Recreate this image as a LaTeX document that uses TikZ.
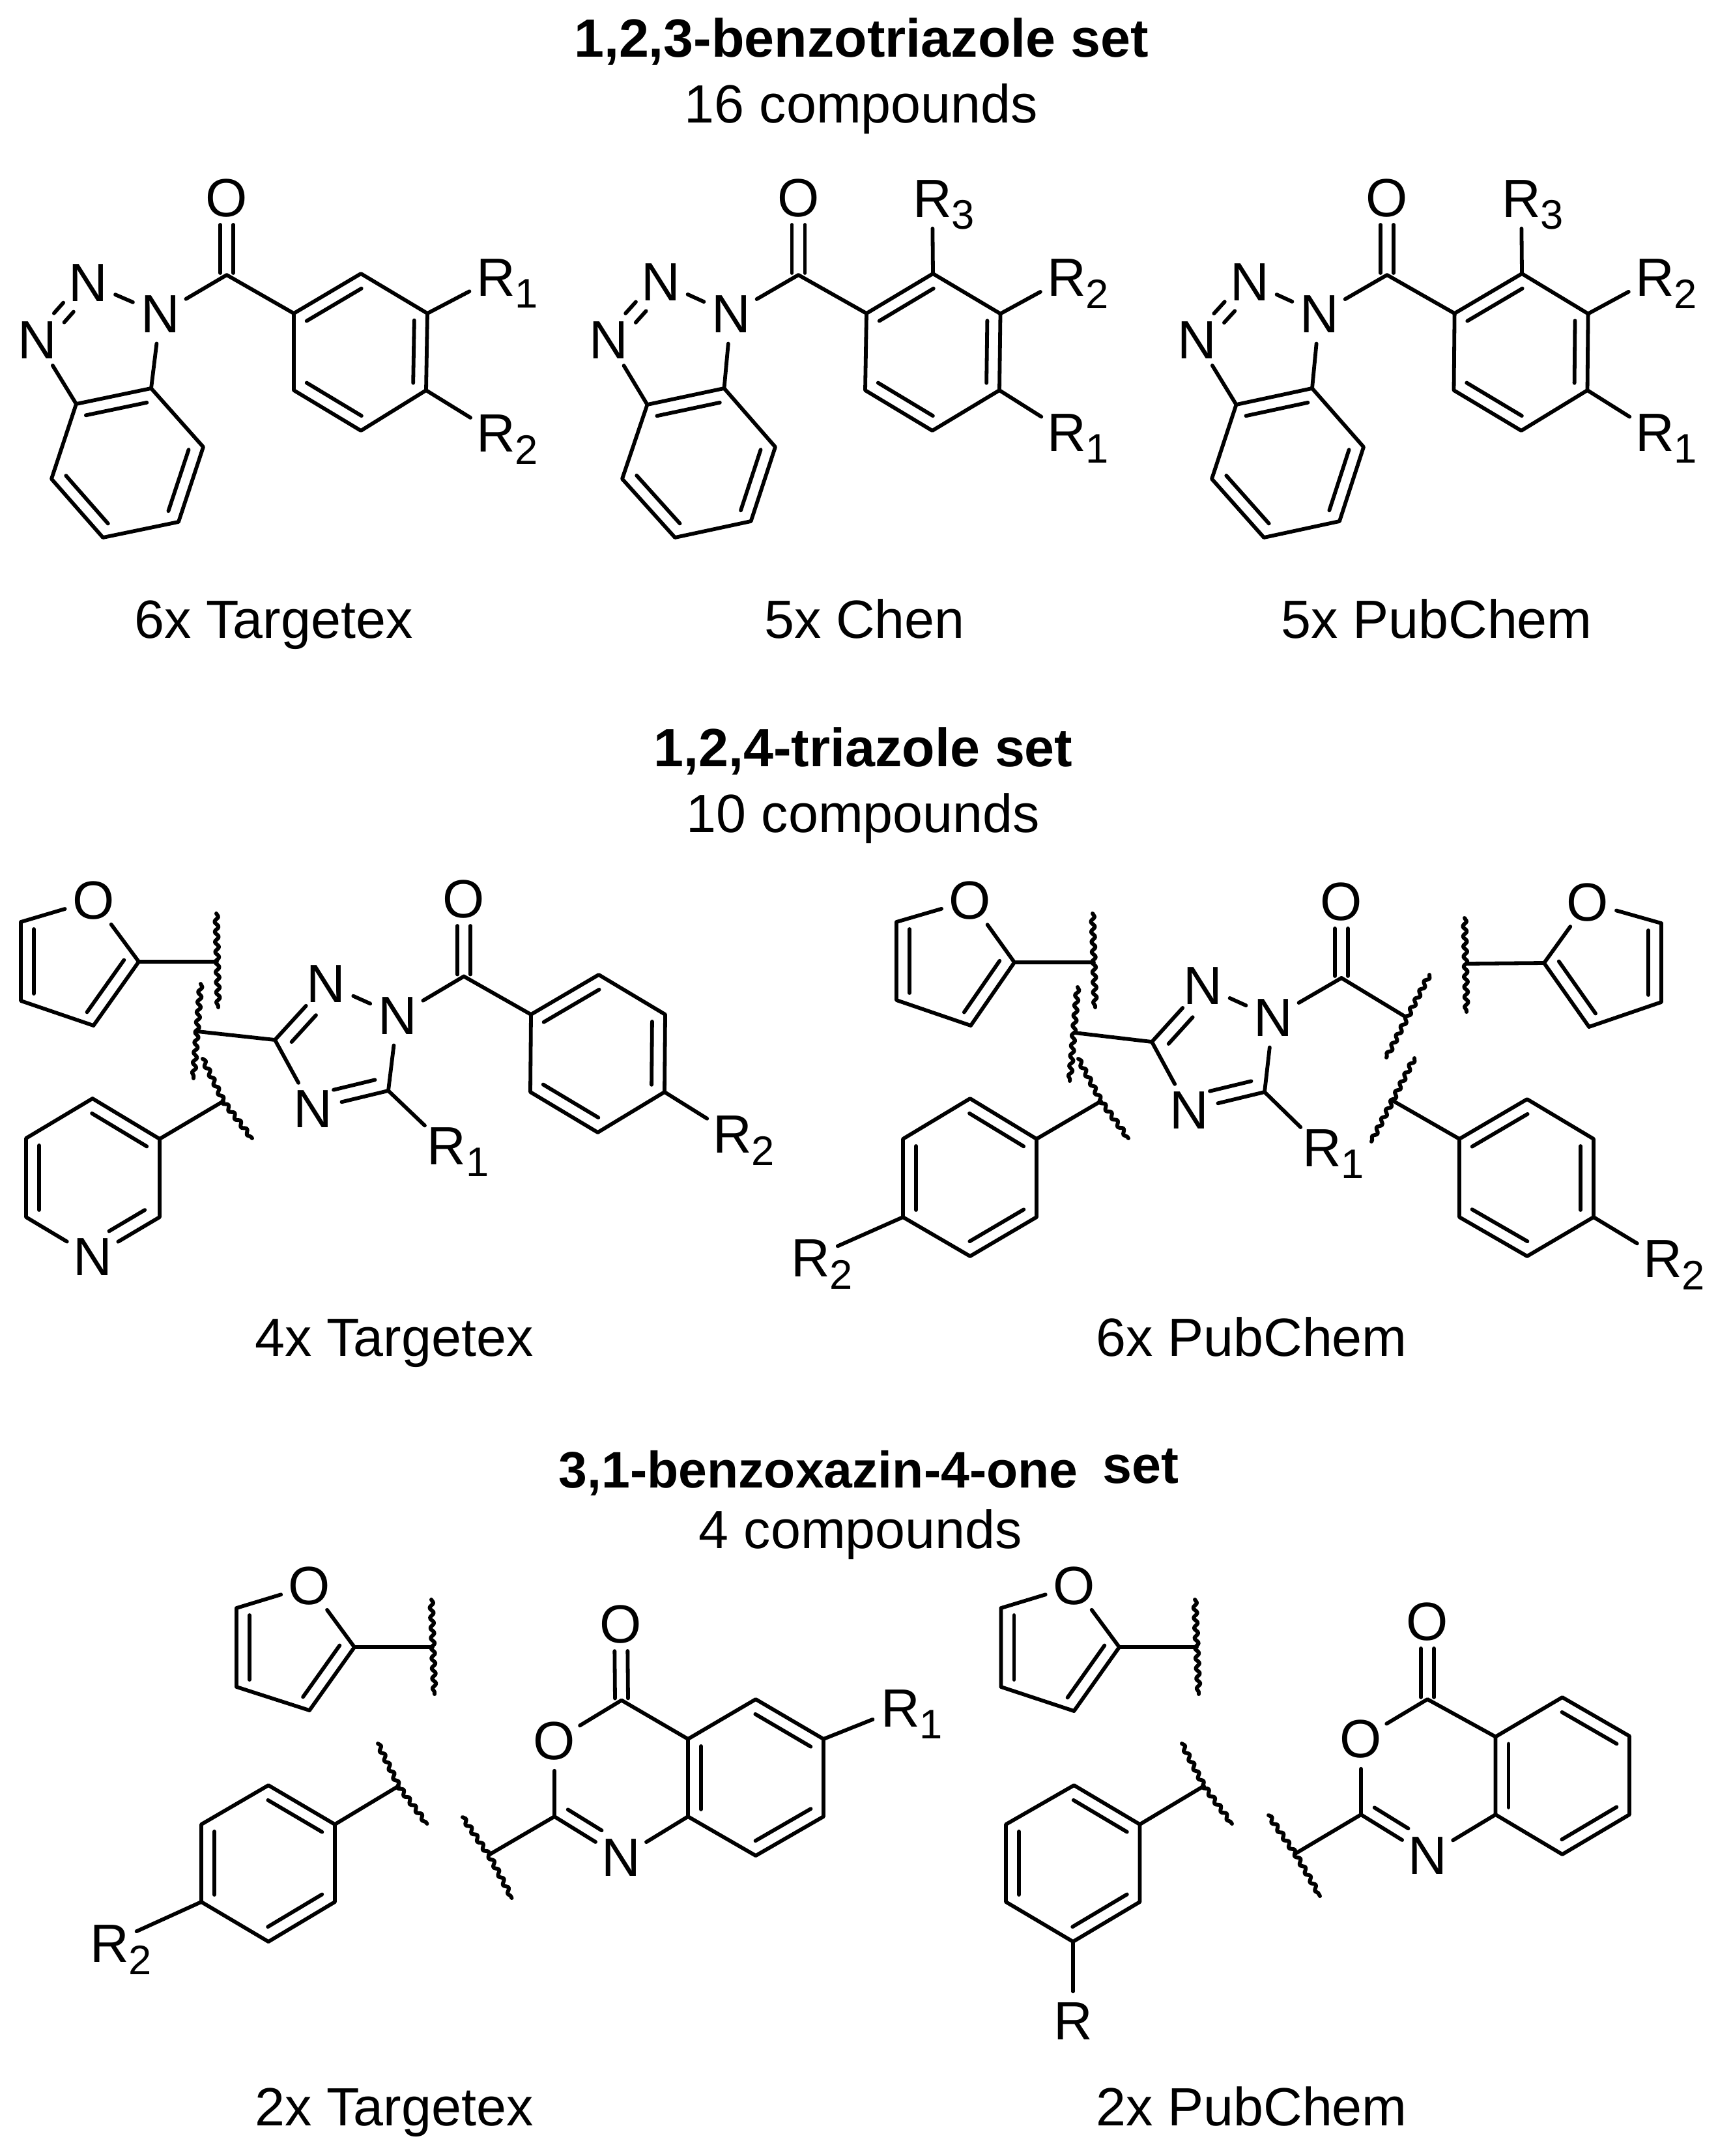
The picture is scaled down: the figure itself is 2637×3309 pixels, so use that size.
\documentclass[tikz,border=0pt]{standalone}
\usepackage{fontspec}
\setmainfont{Liberation Sans}
\usetikzlibrary{calc,decorations.pathmorphing}
\tikzset{
  bond/.style={line width=1.65pt,line cap=round,line join=round,black},
  wave/.style={line width=1.7pt,line cap=round,line join=round,black,decorate,decoration={snake,segment length=0.155cm,amplitude=0.03cm}},
  atom/.style={circle,inner sep=0pt,minimum size=0.9cm,font=\fontsize{23.5}{28}\selectfont,text=black},
  subs/.style={inner sep=0pt,font=\fontsize{18}{22}\selectfont,text=black},
  lab/.style={inner sep=0pt,anchor=base,yshift=-0.28cm,font=\fontsize{23.5}{28}\selectfont,text=black},
  ttl/.style={inner sep=0pt,anchor=base,yshift=-0.28cm,font=\fontsize{23.5}{28}\selectfont\bfseries,text=black},
  ttlb/.style={ttl,font=\fontsize{22.4}{28}\selectfont\bfseries},
  ttlc/.style={ttl,font=\fontsize{23}{28}\selectfont\bfseries}
}
% inner line of a double bond, on the right-hand side (on the page) of a->b
\newcommand\offl[5]{\draw[bond] ($(#1)!#3*0.01cm!(#2)!#5*0.01cm!-90:(#2)$) -- ($(#2)!#4*0.01cm!(#1)!#5*0.01cm!90:(#1)$);}
\newcommand\dbl[2]{\offl{#1}{#2}{11}{11}{20}}
\newcommand\hetd[2]{\offl{#1}{#2}{14}{42}{21}}
\newcommand\carbonyl[2]{\offl{#1}{#2}{3}{41}{10}\offl{#1}{#2}{3}{41}{-10}}
\newcommand\Cat[2]{\coordinate (#1) at (#2);}
\newcommand\Rlab[3]{\node[atom] (#1) at (#2) {R};\node[subs] (#1s) at ($(#1)+(47,25)$) {#3};}
% 1,2,4-triazole ring with carbonyl
\newcommand\TZbonds[1]{
  \draw[bond] (#1C3)--(#1N2);
  \draw[bond] (#1N2)--(#1N1);
  \draw[bond] (#1N1)--(#1C5)--(#1N4);
  \draw[bond] (#1N4)--(#1C3);
  \offl{#1C3}{#1N2}{15}{46}{21}
  \offl{#1C5}{#1N4}{16}{38}{21}
  \draw[bond] (#1N1)--(#1CO);
  \carbonyl{#1CO}{#1O}
  \draw[bond] (#1C5)--(#1R1);
}
% furan ring
\newcommand\FUbonds[1]{
  \draw[bond] (#1O)--(#1C2)--(#1C3)--(#1C4)--(#1C5)--(#1O);
  \dbl{#1C2}{#1C3}\dbl{#1C4}{#1C5}
}
\newcommand\PHring[1]{
  \draw[bond] (#11)--(#12)--(#13)--(#14)--(#15)--(#16)--cycle;
  \dbl{#11}{#12}\dbl{#13}{#14}\dbl{#15}{#16}
}
% benzotriazole carbonyl part
\newcommand\BTbonds[1]{
  \draw[bond] (#1Ca)--(#1X7)--(#1X6)--(#1X5)--(#1X4)--(#1Cb)--(#1Ca);
  \draw[bond] (#1Cb)--(#1Nc);\draw[bond] (#1Ca)--(#1Na);
  \offl{#1Nc}{#1Nb}{48}{48}{-8}\offl{#1Nc}{#1Nb}{48}{48}{13}
  \draw[bond] (#1Nb)--(#1Na);\draw[bond] (#1Na)--(#1CO)--(#1P1);
  \carbonyl{#1CO}{#1O}
  \dbl{#1Cb}{#1Ca}\dbl{#1X7}{#1X6}\dbl{#1X5}{#1X4}
  \PHring{#1P}
}
% benzoxazinone part
\newcommand\BXbonds[1]{
  \draw[bond] (#1O1)--(#1C4)--(#1Ca)--(#1Cb)--(#1N)--(#1C2)--(#1O1);
  \carbonyl{#1C4}{#1O}
  \draw[bond] (#1Ca)--(#1Cc)--(#1Cd)--(#1Ce)--(#1Cf)--(#1Cb);
  \dbl{#1Cb}{#1Ca}\dbl{#1Cc}{#1Cd}\dbl{#1Ce}{#1Cf}
  \offl{#1N}{#1C2}{47}{12}{20}
  \draw[bond] (#1C2)--(#1W);
  \draw[wave] (#1Wa)--(#1W)--(#1Wb);
}
\begin{document}
\begin{tikzpicture}[x=0.01cm,y=-0.01cm]
\useasboundingbox (0,0) rectangle (2637,3309);
% ---------- headings ----------
\node[ttl] (t1) at (1322,59) {1,2,3-benzotriazole set};
\node[lab] (t1b) at (1322,160) {16 compounds};
\node[lab] (l1) at (420,951) {6x Targetex};
\node[lab] (l2) at (1327,951) {5x Chen};
\node[lab] (l3) at (2205,951) {5x PubChem};
\node[ttl] (t2) at (1325,1148) {1,2,4-triazole set};
\node[lab] (t2b) at (1325,1249) {10 compounds};
\node[lab] (l4) at (605,2053) {4x Targetex};
\node[lab] (l5) at (1921,2053) {6x PubChem};
\node[ttlb] (t3) at (1256,2255) {3,1-benzoxazin-4-one};
\node[ttlc] (t3s) at (1751,2248) {set};
\node[lab] (t3b) at (1321,2348) {4 compounds};
\node[lab] (l6) at (605,3234) {2x Targetex};
\node[lab] (l7) at (1921,3234) {2x PubChem};
% ---------- molecule 1 ----------
\node[atom] (aO) at (348,304) {O};\Cat{aCO}{348,422}
\node[atom] (aNa) at (246,482) {N};\node[atom] (aNb) at (135,434) {N};\node[atom] (aNc) at (57,522) {N};
\Cat{aCb}{117,620}\Cat{aCa}{232,596}
\Cat{aX7}{312,686}\Cat{aX6}{274,801}\Cat{aX5}{158,825}\Cat{aX4}{79,735}
\Cat{aP1}{451,481}\Cat{aP2}{554,420}\Cat{aP3}{656,481}\Cat{aP4}{654,599}\Cat{aP5}{554,661}\Cat{aP6}{451,599}
\Rlab{aR1}{761,426}{1}\Rlab{aR2}{761,665}{2}
\BTbonds{a}
\draw[bond] (aP3)--(aR1);\draw[bond] (aP4)--(aR2);
% ---------- molecule 2 ----------
\node[atom] (bO) at (1225.5,304) {O};\Cat{bCO}{1225.5,422}
\node[atom] (bNa) at (1122,482) {N};\node[atom] (bNb) at (1014,433) {N};\node[atom] (bNc) at (934,522) {N};
\Cat{bCb}{993.5,621}\Cat{bCa}{1111.5,596}
\Cat{bX7}{1190,686}\Cat{bX6}{1152.6,800}\Cat{bX5}{1036,825}\Cat{bX4}{955,735}
\Cat{bP1}{1330,481}\Cat{bP2}{1432,420}\Cat{bP3}{1535.5,481.5}\Cat{bP4}{1534,599}\Cat{bP5}{1431,661}\Cat{bP6}{1328,599}
\Rlab{bR3}{1431,305}{3}\Rlab{bR2}{1637,426}{2}\Rlab{bR1}{1637,664}{1}
\BTbonds{b}
\draw[bond] (bP2)--(bR3);\draw[bond] (bP3)--(bR2);\draw[bond] (bP4)--(bR1);
% ---------- molecule 3 ----------
\node[atom] (cO) at (2129,304) {O};\Cat{cCO}{2129,422}
\node[atom] (cNa) at (2025,482) {N};\node[atom] (cNb) at (1918,433) {N};\node[atom] (cNc) at (1837,522) {N};
\Cat{cCb}{1897.5,621}\Cat{cCa}{2014,596}
\Cat{cX7}{2093,686}\Cat{cX6}{2056,800}\Cat{cX5}{1940,825}\Cat{cX4}{1860,735}
\Cat{cP1}{2232.6,481}\Cat{cP2}{2336,420}\Cat{cP3}{2437.6,481.5}\Cat{cP4}{2436.5,599}\Cat{cP5}{2335,661}\Cat{cP6}{2231.5,599}
\Rlab{cR3}{2335,305}{3}\Rlab{cR2}{2540,426}{2}\Rlab{cR1}{2540,664}{1}
\BTbonds{c}
\draw[bond] (cP2)--(cR3);\draw[bond] (cP3)--(cR2);\draw[bond] (cP4)--(cR1);
% ---------- molecule 4 ----------
\node[atom] (dfO) at (143.5,1382) {O};
\Cat{dfC2}{213,1476}\Cat{dfC3}{143.5,1574}\Cat{dfC4}{32,1536}\Cat{dfC5}{32,1415}
\FUbonds{df}
\Cat{dW1}{333,1476}\Cat{dW1a}{332,1402}\Cat{dW1b}{335,1546}
\draw[bond] (dfC2)--(dW1);\draw[wave] (dW1a)--(dW1b);
\Cat{dW2}{303,1583}\Cat{dW2a}{308,1510}\Cat{dW2b}{297,1655}
\draw[wave] (dW2a)--(dW2b);
\Cat{dtC3}{422,1596}\Cat{dtC5}{596,1674}\Cat{dtCO}{712,1498.5}
\node[atom] (dtN2) at (500.5,1510) {N};\node[atom] (dtN1) at (610,1559) {N};\node[atom] (dtN4) at (480,1702) {N};
\node[atom] (dtO) at (712,1380) {O};\node[atom] (dtR1) at (685,1759) {R};\node[subs] (dtR1s) at (733,1784) {1};
\TZbonds{dt}
\draw[bond] (dW2)--(dtC3);
\Cat{dP1}{815,1557}\Cat{dP2}{919,1496}\Cat{dP3}{1021,1557}\Cat{dP4}{1020,1676}\Cat{dP5}{917.5,1738}\Cat{dP6}{814,1676}
\PHring{dP}
\draw[bond] (dtCO)--(dP1);
\Rlab{dR2}{1124,1741}{2}
\draw[bond] (dP4)--(dR2);
\Cat{dW3}{343,1690}\Cat{dW3a}{311,1625}\Cat{dW3b}{387,1747}
\draw[wave] (dW3a)--(dW3)--(dW3b);
\Cat{dy3}{245,1748}\Cat{dy4}{142,1686}\Cat{dy5}{40,1747}\Cat{dy6}{40,1868}\Cat{dy2}{245,1868}
\node[atom] (dyN) at (142,1929) {N};
\draw[bond] (dW3)--(dy3);
\draw[bond] (dy4)--(dy3)--(dy2)--(dyN)--(dy6)--(dy5)--(dy4);
\dbl{dy4}{dy3}\dbl{dy6}{dy5}\hetd{dy2}{dyN}
% ---------- molecule 5 ----------
\node[atom] (efO) at (1489,1382) {O};
\Cat{efC2}{1557,1477}\Cat{efC3}{1490,1574}\Cat{efC4}{1376,1535}\Cat{efC5}{1376,1415}
\FUbonds{ef}
\Cat{eW1}{1679,1477}\Cat{eW1a}{1677,1402}\Cat{eW1b}{1681,1546}
\draw[bond] (efC2)--(eW1);\draw[wave] (eW1a)--(eW1b);
\Cat{eW2}{1649,1585}\Cat{eW2a}{1654,1515}\Cat{eW2b}{1642,1659}
\draw[wave] (eW2a)--(eW2b);
\Cat{etC3}{1768,1599}\Cat{etC5}{1941,1676}\Cat{etCO}{2059,1501}
\node[atom] (etN2) at (1846,1513) {N};\node[atom] (etN1) at (1954,1562) {N};\node[atom] (etN4) at (1825,1704) {N};
\node[atom] (etO) at (2059,1384) {O};\node[atom] (etR1) at (2029,1762) {R};\node[subs] (etR1s) at (2076,1787) {1};
\TZbonds{et}
\draw[bond] (eW2)--(etC3);
\Cat{eW4}{2158,1561}\Cat{eW4a}{2194,1496}\Cat{eW4b}{2128,1623}
\draw[bond] (etCO)--(eW4);\draw[wave] (eW4a)--(eW4b);
\Cat{eW5}{2251,1479}\Cat{eW5a}{2248,1409}\Cat{eW5b}{2251,1553}
\draw[wave] (eW5a)--(eW5b);
\node[atom] (egO) at (2437,1385) {O};
\Cat{egC2}{2370,1478}\Cat{egC3}{2439,1576}\Cat{egC4}{2550,1538}\Cat{egC5}{2550,1417}
\draw[bond] (eW5)--(egC2);
\draw[bond] (egO)--(egC5)--(egC4)--(egC3)--(egC2)--(egO);
\dbl{egC5}{egC4}\dbl{egC3}{egC2}
\Cat{eW3}{1690,1690}\Cat{eW3a}{1655,1625}\Cat{eW3b}{1732,1747}
\draw[wave] (eW3a)--(eW3)--(eW3b);
\Cat{eP1}{1591,1748}\Cat{eP2}{1489,1686}\Cat{eP3}{1386,1748}\Cat{eP4}{1386,1868}\Cat{eP5}{1489,1928}\Cat{eP6}{1591,1868}
\draw[bond] (eW3)--(eP1);
\draw[bond] (eP2)--(eP1)--(eP6)--(eP5)--(eP4)--(eP3)--cycle;
\dbl{eP2}{eP1}\dbl{eP6}{eP5}\dbl{eP4}{eP3}
\Rlab{eR2a}{1244,1931}{2}
\draw[bond] (eP4)--(eR2a);
\Cat{eW6}{2139,1690}\Cat{eW6a}{2171,1624}\Cat{eW6b}{2105,1752}
\draw[wave] (eW6a)--(eW6b);
\Cat{eQ1}{2240,1748}\Cat{eQ2}{2344,1687}\Cat{eQ3}{2446,1748}\Cat{eQ4}{2446,1868}\Cat{eQ5}{2344,1928}\Cat{eQ6}{2240,1868}
\draw[bond] (eW6)--(eQ1);
\PHring{eQ}
\Rlab{eR2b}{2552,1932}{2}
\draw[bond] (eQ4)--(eR2b);
% ---------- molecule 6 ----------
\node[atom] (ffO) at (475,2434) {O};
\Cat{ffC2}{544,2528}\Cat{ffC3}{475,2625}\Cat{ffC4}{363,2589}\Cat{ffC5}{363,2468}
\FUbonds{ff}
\Cat{fW1}{664,2528}\Cat{fW1a}{662,2455}\Cat{fW1b}{667,2600}
\draw[bond] (ffC2)--(fW1);\draw[wave] (fW1a)--(fW1b);
\Cat{fW2}{612,2741}\Cat{fW2a}{580,2676}\Cat{fW2b}{655.5,2799}
\draw[wave] (fW2a)--(fW2)--(fW2b);
\Cat{fP1}{514,2800}\Cat{fP2}{412,2740}\Cat{fP3}{309,2800}\Cat{fP4}{309,2919}\Cat{fP5}{412,2980}\Cat{fP6}{514,2919}
\draw[bond] (fW2)--(fP1);
\draw[bond] (fP2)--(fP1)--(fP6)--(fP5)--(fP4)--(fP3)--cycle;
\dbl{fP2}{fP1}\dbl{fP6}{fP5}\dbl{fP4}{fP3}
\Rlab{fR2}{168,2983}{2}
\draw[bond] (fP4)--(fR2);
\node[atom] (fxO) at (953,2493) {O};\node[atom] (fxO1) at (851,2672) {O};\node[atom] (fxN) at (953,2851) {N};
\Cat{fxC4}{954,2609.5}\Cat{fxC2}{851,2788}\Cat{fxCb}{1056,2788}\Cat{fxCa}{1056,2669}
\Cat{fxCc}{1160,2608}\Cat{fxCd}{1264,2669}\Cat{fxCe}{1264,2788}\Cat{fxCf}{1160,2848}
\Cat{fxW}{750,2847}\Cat{fxWa}{710,2789}\Cat{fxWb}{785.5,2913}
\BXbonds{fx}
\Rlab{fR1}{1382,2622}{1}
\draw[bond] (fxCd)--(fR1);
% ---------- molecule 7 ----------
\node[atom] (gfO) at (1648.5,2434) {O};
\Cat{gfC2}{1718,2528}\Cat{gfC3}{1648.5,2626}\Cat{gfC4}{1536.5,2589}\Cat{gfC5}{1536.5,2468}
\FUbonds{gf}
\Cat{gW1}{1837,2528}\Cat{gW1a}{1834,2455}\Cat{gW1b}{1840,2600}
\draw[bond] (gfC2)--(gW1);\draw[wave] (gW1a)--(gW1b);
\Cat{gW2}{1848,2741}\Cat{gW2a}{1814,2676}\Cat{gW2b}{1891,2799}
\draw[wave] (gW2a)--(gW2)--(gW2b);
\Cat{gP1}{1749.5,2800}\Cat{gP2}{1648.5,2740}\Cat{gP3}{1544,2800}\Cat{gP4}{1544,2919}\Cat{gP5}{1647,2980}\Cat{gP6}{1749.5,2919}
\draw[bond] (gW2)--(gP1);
\draw[bond] (gP2)--(gP1)--(gP6)--(gP5)--(gP4)--(gP3)--cycle;
\dbl{gP2}{gP1}\dbl{gP6}{gP5}\dbl{gP4}{gP3}
\node[atom] (gR) at (1647,3102) {R};
\draw[bond] (gP5)--(gR);
\node[atom] (gxO) at (2191,2489) {O};\node[atom] (gxO1) at (2089,2669) {O};\node[atom] (gxN) at (2191,2848) {N};
\Cat{gxC4}{2191,2608}\Cat{gxC2}{2089,2785}\Cat{gxCb}{2295.5,2785}\Cat{gxCa}{2295.5,2665.5}
\Cat{gxCc}{2398,2605}\Cat{gxCd}{2501,2664.5}\Cat{gxCe}{2501,2785}\Cat{gxCf}{2398,2846}
\Cat{gxW}{1988,2845}\Cat{gxWa}{1947,2786}\Cat{gxWb}{2026,2910}
\BXbonds{gx}
\end{tikzpicture}
\end{document}
